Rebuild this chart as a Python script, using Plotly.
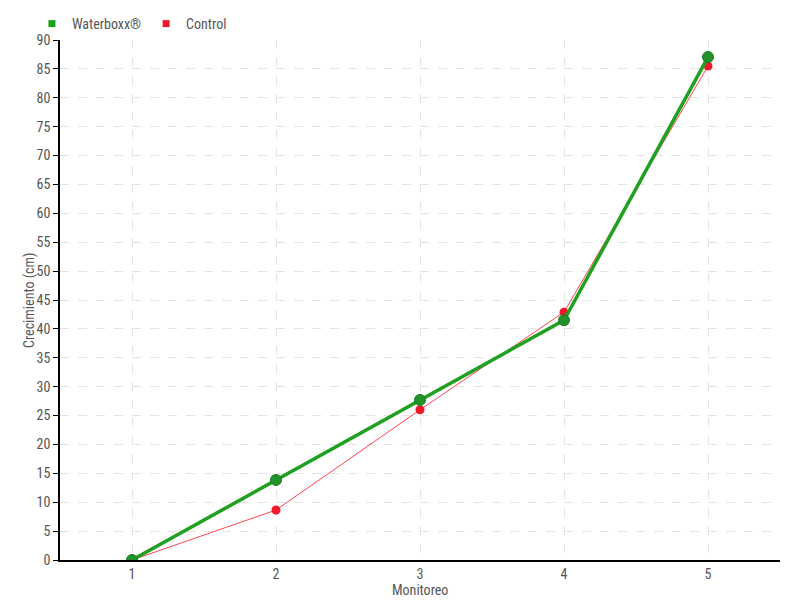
import plotly.graph_objects as go

monitoreo = [1, 2, 3, 4, 5]
waterboxx = [0, 13.85, 27.7, 41.5, 87.05]
control = [0, 8.65, 26.0, 42.9, 85.5]

FONT = "Roboto Condensed, Liberation Sans Narrow, Roboto, sans-serif"
TXT = "#555555"
GREEN = "#1fa01f"
RED = "#f0182a"

fig = go.Figure()
fig.add_trace(go.Scatter(x=monitoreo, y=control, mode="lines+markers", showlegend=False,
                         line=dict(color="#ff4455", width=1),
                         marker=dict(color=RED, size=9)))
fig.add_trace(go.Scatter(x=monitoreo, y=waterboxx, mode="lines+markers", showlegend=False,
                         line=dict(color=GREEN, width=3.5),
                         marker=dict(color="#23922a", size=11, line=dict(color="#1a7a1f", width=1))))
fig.add_trace(go.Scatter(x=[None], y=[None], mode="markers", name="Waterboxx®",
                         marker=dict(color=GREEN, symbol="square", size=7)))
fig.add_trace(go.Scatter(x=[None], y=[None], mode="markers", name="Control",
                         marker=dict(color=RED, symbol="square", size=7)))

fig.update_layout(
    width=800, height=600,
    margin=dict(l=60, r=20, t=40, b=40, autoexpand=False),
    paper_bgcolor="white", plot_bgcolor="white",
    font=dict(family=FONT, size=14, color=TXT),
    legend=dict(orientation="h", x=-0.039, y=1.0, xanchor="left", yanchor="bottom",
                font=dict(family=FONT, size=14, color=TXT), itemwidth=30, tracegroupgap=0,
                bgcolor="rgba(0,0,0,0)"),
    xaxis=dict(range=[0.5, 5.5], tickvals=monitoreo, ticktext=[str(v) for v in monitoreo],
               showgrid=True, gridcolor="#e4e4e4", griddash="dash", gridwidth=1,
               showline=True, linecolor="black", linewidth=1.5, zeroline=False, automargin=False,
               ticks="", ticklabelstandoff=0, tickfont=dict(size=14, color=TXT)),
    yaxis=dict(range=[0, 90], dtick=5, showgrid=True, gridcolor="#e4e4e4", griddash="dash",
               gridwidth=1, showline=True, linecolor="black", linewidth=1.5, zeroline=False,
               automargin=False,
               ticks="outside", ticklen=5, tickcolor="black",
               tickfont=dict(size=14, color=TXT)),
    annotations=[
        dict(text="Monitoreo", xref="paper", yref="paper", x=0.5, y=-30 / 520,
             xanchor="center", yanchor="middle", showarrow=False, borderpad=0,
             font=dict(size=14, color=TXT)),
        dict(text="Crecimiento (cm)", xref="paper", yref="paper", x=-31 / 720, y=0.5,
             xanchor="center", yanchor="middle", textangle=-90, showarrow=False,
             font=dict(size=14, color=TXT)),
    ],
)

fig.write_html("out.html", config={"displayModeBar": False},
               post_script="document.body.style.margin='0';")
